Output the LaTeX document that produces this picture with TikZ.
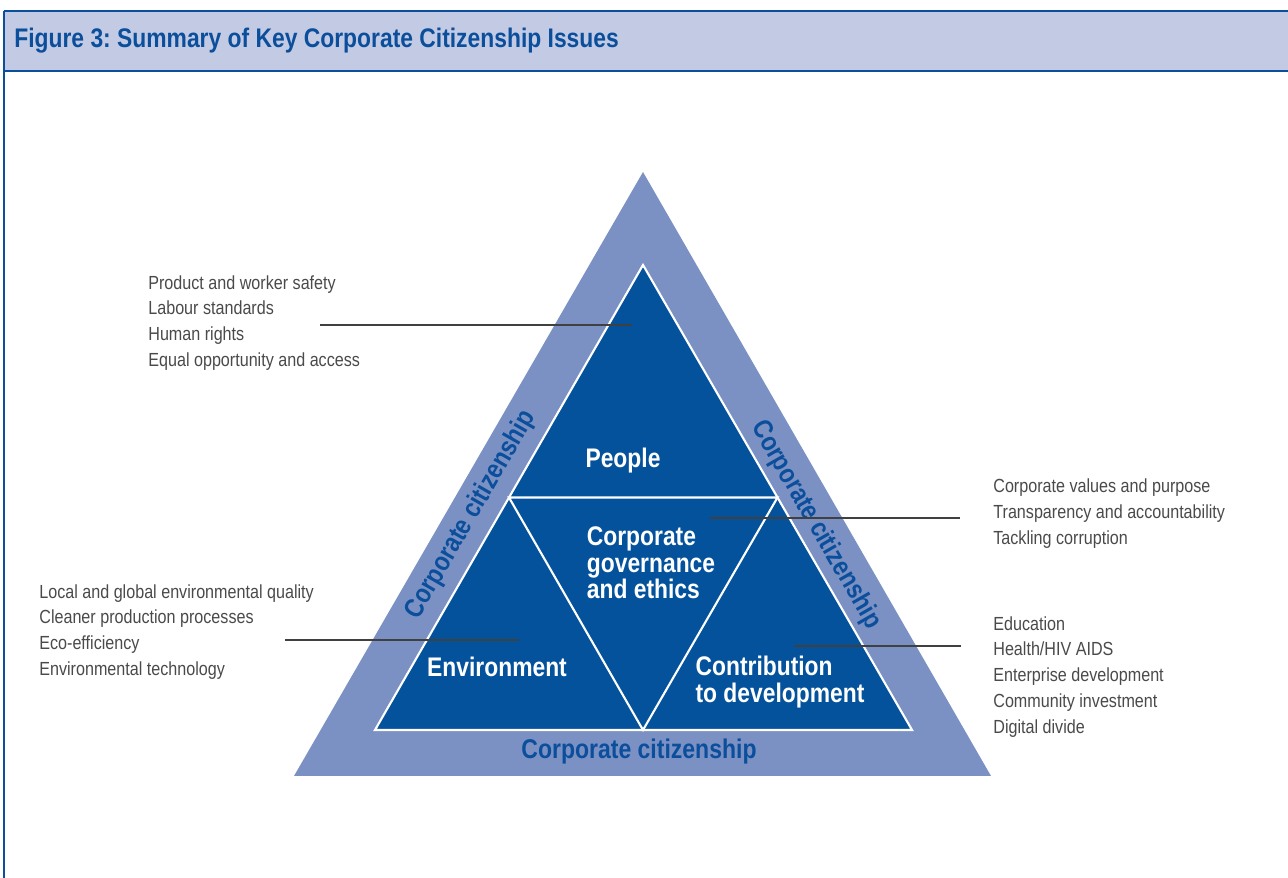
\documentclass[tikz,border=0pt]{standalone}
\usepackage{tikz}
\usepackage{xcolor}
\usepackage{fontspec}
\setmainfont{Liberation Sans}
\newfontfamily\condfont[FakeStretch=0.85]{Liberation Sans}
\frenchspacing

\definecolor{headblue}{HTML}{C3CBE4}
\definecolor{titleblue}{HTML}{0B4E9B}
\definecolor{ringblue}{HTML}{7B91C4}
\definecolor{coreblue}{HTML}{04529C}
\definecolor{listgray}{HTML}{4A4A4A}

\begin{document}
\begin{tikzpicture}[
  label/.style={font=\condfont\bfseries\fontsize{15.3}{15.2}\selectfont, text=white, align=left, inner sep=0pt},
  band/.style={font=\condfont\bfseries\fontsize{15.4}{15.2}\selectfont, text=titleblue, inner sep=0pt},
  list/.style={font=\condfont\fontsize{10.8}{14.75}\selectfont, text=listgray, align=left, anchor=west, inner sep=0pt},
  pointer/.style={draw=black!75, line width=0.6pt}
]
\useasboundingbox (0,0) rectangle (25.76,17.56);

% header band
\fill[headblue] (0.08,16.14) rectangle (25.76,17.34);
\draw[titleblue, line width=1.1pt] (0.08,17.34) -- (25.76,17.34);
\draw[titleblue, line width=1.1pt] (0.08,16.14) -- (25.76,16.14);
\draw[titleblue, line width=0.7pt] (0.08,17.34) -- (0.08,0);
\draw(0.28,16.74) node[anchor=west, inner sep=0pt, text=titleblue, font=\condfont\bfseries\fontsize{15.3}{16}\selectfont] (title) {Figure 3: Summary of Key Corporate Citizenship Issues};

% outer ring
\fill[ringblue] (12.86,14.12) -- (5.88,2.04) -- (19.82,2.04) -- cycle;

% inner triangle and its split
\filldraw[fill=coreblue, draw=white, line width=1.2pt] (12.86,12.26) -- (7.50,2.96) -- (18.24,2.96) -- cycle;
\draw[white, line width=1.2pt] (10.18,7.61) -- (15.55,7.61) -- (12.86,2.96) -- cycle;

% the four parts
\draw(12.46,8.34) node[label] (people) {People};
\draw(13.02,6.30) node[label] (ethics) {Corporate\\governance\\and ethics};
\draw(9.94,4.22) node[label] (environment) {Environment};
\draw(15.60,3.92) node[label] (development) {Contribution\\to development};

% ring texts
\draw(12.78,2.52) node[band] (ringbottom) {Corporate citizenship};
\draw(9.42,7.26) node[band, rotate=60] (ringleft) {Corporate citizenship};
\draw(16.32,7.06) node[band, rotate=-60] (ringright) {Corporate citizenship};

% issue lists
\draw(2.96,11.10) node[list] (peoplelist) {Product and worker safety\\Labour standards\\Human rights\\Equal opportunity and access};
\draw(19.86,7.28) node[list] (ethicslist) {Corporate values and purpose\\Transparency and accountability\\Tackling corruption};
\draw(0.78,4.92) node[list] (envlist) {Local and global environmental quality\\Cleaner production processes\\Eco-efficiency\\Environmental technology};
\draw(19.86,4.02) node[list] (devlist) {Education\\Health/HIV AIDS\\Enterprise development\\Community investment\\Digital divide};

% pointers
\coordinate (peopletail) at (6.40,11.06);
\coordinate (peopletip) at (12.64,11.06);
\coordinate (ethicstip) at (14.20,7.20);
\coordinate (ethicstail) at (19.20,7.20);
\coordinate (envtail) at (5.70,4.76);
\coordinate (envtip) at (10.38,4.76);
\coordinate (devtip) at (15.88,4.64);
\coordinate (devtail) at (19.22,4.64);
\draw[pointer] (peopletail) -- (peopletip);
\draw[pointer] (ethicstip) -- (ethicstail);
\draw[pointer] (envtail) -- (envtip);
\draw[pointer] (devtip) -- (devtail);

\end{tikzpicture}
\end{document}
